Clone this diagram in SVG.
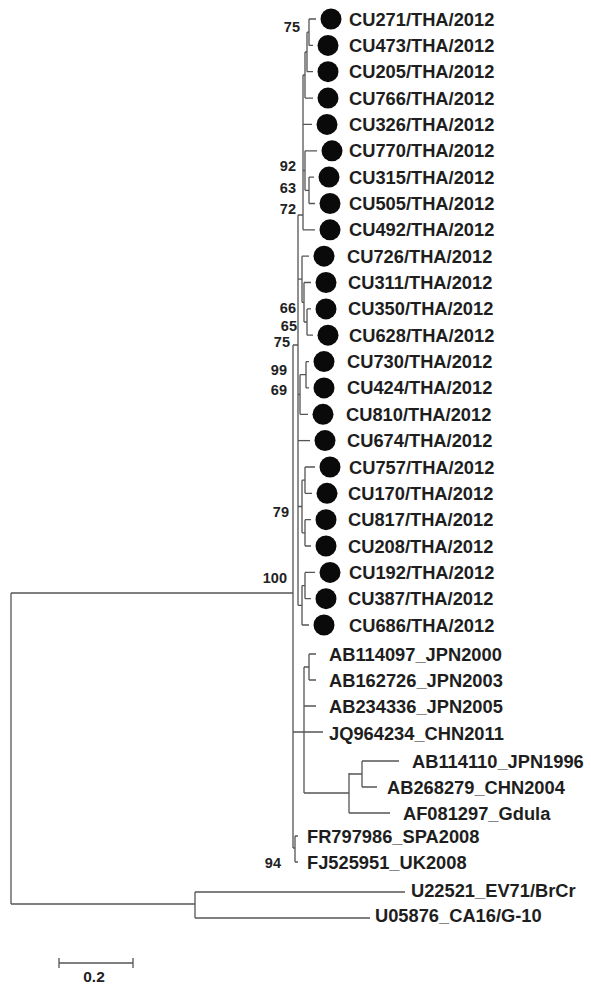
<svg xmlns="http://www.w3.org/2000/svg" width="591" height="985" viewBox="0 0 591 985">
<style>
.t{font-family:"Liberation Sans",Arial,sans-serif;font-size:18.3px;font-weight:bold;fill:#1e1e1e}
.b{font-family:"Liberation Sans",Arial,sans-serif;font-size:14.5px;font-weight:bold;fill:#222;text-anchor:end}
.e{fill:none;stroke:#555;stroke-width:1.3}
.d{fill:#0a0a0a}
</style>
<rect width="591" height="985" fill="#fff"/>
<g id="connectors" class="e">
<path d="M309,19V45.4M309,19H316M309,45.4H313"/>
<path d="M307,32.2H309M307,32.2V71.7M307,71.7H313"/>
<path d="M305,52H307M305,52V98.1M305,98.1H313"/>
<path d="M303,75H305M303,75V229.8M303,124.4H312M303,170.5H305M303,229.8H315"/>
<path d="M305,150.8V190.3M305,150.8H317M305,190.3H309"/>
<path d="M309,177.1V203.5M309,177.1H314M309,203.5H315"/>
<path d="M298,215H303M298,215V605.3"/>
<path d="M298,279.2H302M302,256.2V302.3M302,256.2H309M302,302.3H304"/>
<path d="M304,282.5V322M304,282.5H311M304,322H307"/>
<path d="M307,308.9V335.2M307,308.9H311M307,335.2H313"/>
<path d="M306,361.6V387.9M306,361.6H309M306,387.9H309"/>
<path d="M298,394.5H300M300,374.7V414.3M300,374.7H306M300,414.3H308"/>
<path d="M298,440.6H310"/>
<path d="M305,467V493.3M305,467H315M305,493.3H312"/>
<path d="M305,519.7V546M305,519.7H311M305,546H311"/>
<path d="M298,506.5H302M302,480.2V532.8M302,480.2H305M302,532.8H305"/>
<path d="M305,572.4V598.7M305,572.4H315M305,598.7H311"/>
<path d="M298,605.3H302M302,585.6V625M302,585.6H305M302,625H309"/>
<path d="M293,345H298M293,345V848"/>
<path d="M11,593H293M11,593V904M11,904H195"/>
<path d="M195,892V918M195,892H405M195,918H370"/>
<path d="M293,732H304M304,667V793M304,667H309M309,654V680M309,654H316M309,680H316M304,706H316M304,732H323"/>
<path d="M304,793H349M349,773V813M349,774H362M362,761V787M362,761H399M362,787H377M349,813H390"/>
<path d="M293,848H295M295,836V862M295,836H298M295,862H298"/>
<path d="M59,963H133M59,958V968M133,958V968"/>
</g>
<g id="CU271"><circle class="d" cx="331" cy="19" r="10.5"/><text class="t" x="349" y="25.5">CU271/THA/2012</text></g>
<g id="CU473"><circle class="d" cx="328" cy="45.4" r="10.5"/><text class="t" x="349" y="51.9">CU473/THA/2012</text></g>
<g id="CU205"><circle class="d" cx="328" cy="71.7" r="10.5"/><text class="t" x="349" y="78.2">CU205/THA/2012</text></g>
<g id="CU766"><circle class="d" cx="328" cy="98.1" r="10.5"/><text class="t" x="349" y="104.6">CU766/THA/2012</text></g>
<g id="CU326"><circle class="d" cx="327" cy="124.4" r="10.5"/><text class="t" x="349" y="130.9">CU326/THA/2012</text></g>
<g id="CU770"><circle class="d" cx="332" cy="150.8" r="10.5"/><text class="t" x="349" y="157.3">CU770/THA/2012</text></g>
<g id="CU315"><circle class="d" cx="329" cy="177.1" r="10.5"/><text class="t" x="349" y="183.6">CU315/THA/2012</text></g>
<g id="CU505"><circle class="d" cx="330" cy="203.5" r="10.5"/><text class="t" x="349" y="210">CU505/THA/2012</text></g>
<g id="CU492"><circle class="d" cx="330" cy="229.8" r="10.5"/><text class="t" x="349" y="236.3">CU492/THA/2012</text></g>
<g id="CU726"><circle class="d" cx="324" cy="256.2" r="10.5"/><text class="t" x="347" y="262.7">CU726/THA/2012</text></g>
<g id="CU311"><circle class="d" cx="326" cy="282.5" r="10.5"/><text class="t" x="348" y="289">CU311/THA/2012</text></g>
<g id="CU350"><circle class="d" cx="326" cy="308.9" r="10.5"/><text class="t" x="348" y="315.4">CU350/THA/2012</text></g>
<g id="CU628"><circle class="d" cx="328" cy="335.2" r="10.5"/><text class="t" x="349" y="341.7">CU628/THA/2012</text></g>
<g id="CU730"><circle class="d" cx="324" cy="361.6" r="10.5"/><text class="t" x="347" y="368.1">CU730/THA/2012</text></g>
<g id="CU424"><circle class="d" cx="324" cy="387.9" r="10.5"/><text class="t" x="347" y="394.4">CU424/THA/2012</text></g>
<g id="CU810"><circle class="d" cx="323" cy="414.3" r="10.5"/><text class="t" x="346" y="420.8">CU810/THA/2012</text></g>
<g id="CU674"><circle class="d" cx="325" cy="440.6" r="10.5"/><text class="t" x="347" y="447.1">CU674/THA/2012</text></g>
<g id="CU757"><circle class="d" cx="330" cy="467" r="10.5"/><text class="t" x="349" y="473.5">CU757/THA/2012</text></g>
<g id="CU170"><circle class="d" cx="327" cy="493.3" r="10.5"/><text class="t" x="348" y="499.8">CU170/THA/2012</text></g>
<g id="CU817"><circle class="d" cx="326" cy="519.7" r="10.5"/><text class="t" x="348" y="526.2">CU817/THA/2012</text></g>
<g id="CU208"><circle class="d" cx="326" cy="546" r="10.5"/><text class="t" x="348" y="552.5">CU208/THA/2012</text></g>
<g id="CU192"><circle class="d" cx="330" cy="572.4" r="10.5"/><text class="t" x="349" y="578.9">CU192/THA/2012</text></g>
<g id="CU387"><circle class="d" cx="326" cy="598.7" r="10.5"/><text class="t" x="348" y="605.2">CU387/THA/2012</text></g>
<g id="CU686"><circle class="d" cx="324" cy="625" r="10.5"/><text class="t" x="349" y="631.5">CU686/THA/2012</text></g>
<g id="AB114097"><text class="t" x="329" y="660.5">AB114097_JPN2000</text></g>
<g id="AB162726"><text class="t" x="329" y="686.5">AB162726_JPN2003</text></g>
<g id="AB234336"><text class="t" x="329" y="712.5">AB234336_JPN2005</text></g>
<g id="JQ964234"><text class="t" x="329" y="739.5">JQ964234_CHN2011</text></g>
<g id="AB114110"><text class="t" x="412" y="767.5">AB114110_JPN1996</text></g>
<g id="AB268279"><text class="t" x="387" y="793.5">AB268279_CHN2004</text></g>
<g id="AF081297"><text class="t" x="403" y="819.5">AF081297_Gdula</text></g>
<g id="FR797986"><text class="t" x="307" y="842.5">FR797986_SPA2008</text></g>
<g id="FJ525951"><text class="t" x="307" y="868.5">FJ525951_UK2008</text></g>
<g id="U22521"><text class="t" x="411" y="896.5">U22521_EV71/BrCr</text></g>
<g id="U05876"><text class="t" x="375" y="921.5">U05876_CA16/G-10</text></g>
<g id="bootstrap">
<text class="b" x="300" y="32">75</text>
<text class="b" x="296" y="171">92</text>
<text class="b" x="296" y="193">63</text>
<text class="b" x="296" y="214">72</text>
<text class="b" x="296" y="313">66</text>
<text class="b" x="297" y="331">65</text>
<text class="b" x="290" y="347">75</text>
<text class="b" x="287" y="375">99</text>
<text class="b" x="287" y="395">69</text>
<text class="b" x="289" y="517">79</text>
<text class="b" x="287" y="583">100</text>
<text class="b" x="281" y="868">94</text>
</g>
<g id="scale"><text class="b" x="94" y="982" style="text-anchor:middle;font-size:15.5px">0.2</text></g>
</svg>
